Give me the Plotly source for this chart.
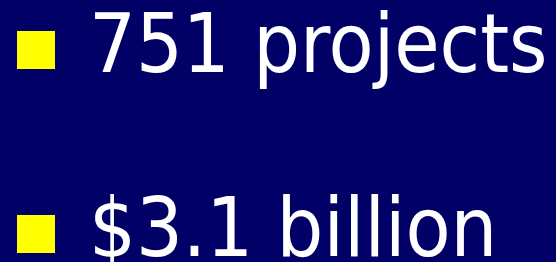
import plotly.graph_objects as go

# Slide content
bullet_texts = ["751 projects", "$3.1 billion"]
line_index = [0, 1]

BG = "#000066"
BULLET = "#FFFF00"
TEXT = "#FFFFFF"

fig = go.Figure()

fig.add_trace(go.Scatter(
    x=[36] * len(line_index), y=line_index, mode="markers",
    marker=dict(symbol="square", size=38, color=BULLET, line=dict(width=0)),
    hoverinfo="skip", showlegend=False,
))

for i, t in zip(line_index, bullet_texts):
    fig.add_annotation(
        x=87, y=i, xref="x", yref="y", text=t, showarrow=False,
        xanchor="left", yanchor="middle", yshift=7,
        font=dict(family="DejaVu Sans Condensed, Liberation Sans, sans-serif", size=82, color=TEXT),
    )

fig.update_layout(
    width=556, height=262,
    margin=dict(l=0, r=0, t=0, b=0),
    paper_bgcolor=BG, plot_bgcolor=BG,
    xaxis=dict(range=[0, 556], visible=False, fixedrange=True),
    yaxis=dict(range=[(262 - 50) / 184, -50 / 184], visible=False, fixedrange=True),
)

fig.write_html("out.html", config={"displayModeBar": False, "staticPlot": True})

# remove default page margin so the figure fills the window
with open("out.html", "r", encoding="utf-8") as f:
    html = f.read()
html = html.replace("<head>", "<head><style>html,body{margin:0;padding:0;background:#000066;overflow:hidden;}</style>", 1)
with open("out.html", "w", encoding="utf-8") as f:
    f.write(html)
